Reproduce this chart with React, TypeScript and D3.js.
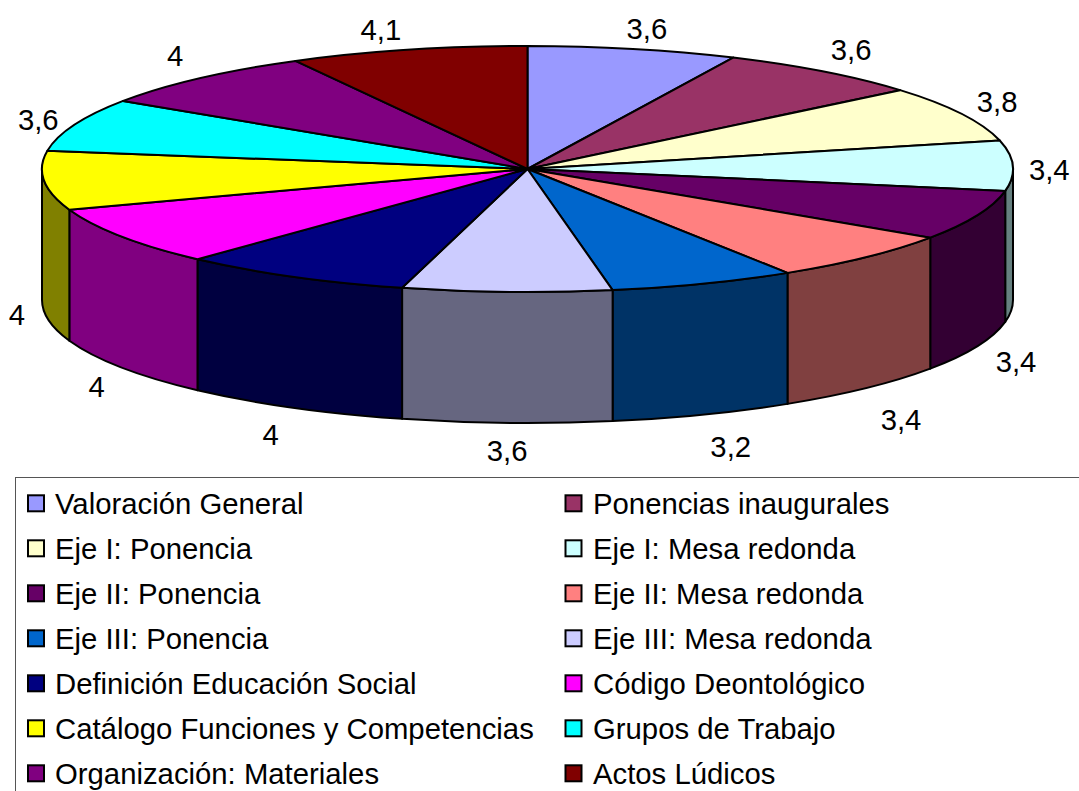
import React from "react";
import * as d3 from "d3";

const categories = [
  "Valoración General", "Ponencias inaugurales", "Eje I: Ponencia", "Eje I: Mesa redonda",
  "Eje II: Ponencia", "Eje II: Mesa redonda", "Eje III: Ponencia", "Eje III: Mesa redonda",
  "Definición Educación Social", "Código Deontológico", "Catálogo Funciones y Competencias",
  "Grupos de Trabajo", "Organización: Materiales", "Actos Lúdicos",
];
const values = [3.6, 3.6, 3.8, 3.4, 3.4, 3.4, 3.2, 3.6, 4, 4, 4, 3.6, 4, 4.1];
const topColors = [
  "#9999FF", "#993366", "#FFFFCC", "#CCFFFF", "#660066", "#FF8080", "#0066CC",
  "#CCCCFF", "#000080", "#FF00FF", "#FFFF00", "#00FFFF", "#800080", "#800000",
];
const sideColors = [
  "#4D4D80", "#4D1A33", "#808066", "#668080", "#330033", "#804040", "#003366",
  "#666680", "#000040", "#800080", "#808000", "#008080", "#400040", "#400000",
];
const labelNudges: [number, number][] = [
  [0, 0], [-12, -5], [-22, -3], [-28, 4], [-21, 7], [-10, 16], [4, 12],
  [3, 7], [9, 8], [29, 7], [37, 1], [24, 2], [19, -7], [-11, 0],
];

const W = 1079, H = 791;
const cx = 527.5, cy = 169, rx = 485.5, ry = 123, depth = 131;
const FONT = "'Liberation Sans', Arial, sans-serif";
const FS = 29.3;

const px = (a: number) => cx + rx * Math.sin(a);
const py = (a: number) => cy - ry * Math.cos(a);

const pieGen = d3.pie<number>().sort(null).value((d) => d);
const arcs = pieGen(values);

function topPath(a0: number, a1: number) {
  const large = a1 - a0 > Math.PI ? 1 : 0;
  return `M${cx},${cy}L${px(a0)},${py(a0)}A${rx},${ry} 0 ${large} 1 ${px(a1)},${py(a1)}Z`;
}
function sidePath(a0: number, a1: number) {
  const s = Math.max(a0, Math.PI / 2), e = Math.min(a1, (3 * Math.PI) / 2);
  if (e <= s) return null;
  return `M${px(s)},${py(s)}A${rx},${ry} 0 0 1 ${px(e)},${py(e)}L${px(e)},${py(e) + depth}A${rx},${ry} 0 0 0 ${px(s)},${py(s) + depth}Z`;
}

const rowY = d3.scaleLinear().domain([0, 6]).range([503.3, 773.3]);
const colX = d3.scaleOrdinal<number, number>().domain([0, 1]).range([28, 565.5]);
const textX = d3.scaleOrdinal<number, number>().domain([0, 1]).range([55, 593]);

export default function App() {
  return (
    <svg width={W} height={H} style={{ position: "absolute", left: 0, top: 0, display: "block", background: "#fff" }}>
      {arcs.map((d, i) => {
        const p = sidePath(d.startAngle, d.endAngle);
        return p ? <path key={i} d={p} fill={sideColors[i]} stroke="#000" strokeWidth={2} strokeLinejoin="round" /> : null;
      })}
      {arcs.map((d, i) => (
        <path key={i} d={topPath(d.startAngle, d.endAngle)} fill={topColors[i]} stroke="#000" strokeWidth={2} strokeLinejoin="round" />
      ))}
      {arcs.map((d, i) => {
        const m = (d.startAngle + d.endAngle) / 2;
        const x = cx + 550 * Math.sin(m) + labelNudges[i][0];
        const c = Math.cos(m);
        const y = cy - 144 * c + (c < 0 ? depth : 0) + labelNudges[i][1];
        return (
          <text key={i} x={x} y={y} dy="0.36em" textAnchor="middle" fontFamily={FONT} fontSize={FS} fill="#000">
            {String(values[i]).replace(".", ",")}
          </text>
        );
      })}
      <rect x={15.5} y={477.5} width={W + 20} height={H} fill="none" stroke="#555" strokeWidth={1} />
      {categories.map((c, i) => {
        const col = i % 2, row = Math.floor(i / 2);
        const x = colX(col), y = rowY(row);
        return (
          <g key={c}>
            <rect x={x} y={y - 8} width={16} height={16} fill={topColors[i]} stroke="#000" strokeWidth={2} />
            <text x={textX(col)} y={y} dy="0.36em" fontFamily={FONT} fontSize={FS} fill="#000">{c}</text>
          </g>
        );
      })}
    </svg>
  );
}
